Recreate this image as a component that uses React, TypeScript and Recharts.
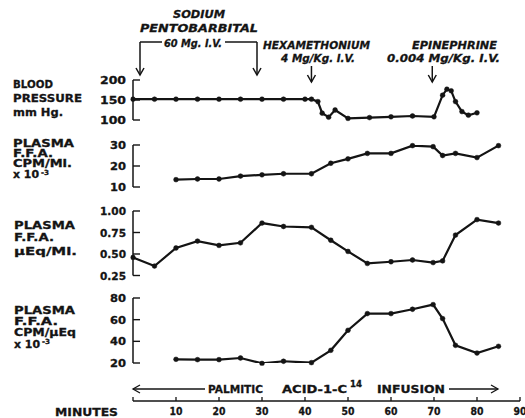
import React from 'react';
import { LineChart, Line, XAxis, YAxis, ReferenceLine } from 'recharts';

const W = 525;
const H = 418;
const X0 = 133; // pixel of minute 0
const X90 = 520; // pixel of minute 90
const INK = '#141414';
const FONT = '"DejaVu Sans", "Liberation Sans", sans-serif';

// blood pressure, mm Hg
const bpMinutes = [0, 5, 10, 15, 20, 25, 30, 35, 40, 41.5, 43, 44, 45.5, 47, 50, 55, 60, 65, 70, 72, 73, 74, 75, 76.5, 78, 80];
const bpValues = [152, 152, 152, 152, 152, 152, 152, 152, 152, 152, 146, 117, 107, 125, 104, 106, 108, 110, 108, 162, 177, 173, 146, 121, 112, 118];

// sampling times of the plasma series
const sampleMinutes = [10, 15, 20, 25, 30, 35, 41.5, 46, 50, 54.5, 60, 65, 69.8, 72, 75, 80, 85];
const cpmPerMl = [13.5, 13.8, 13.8, 15.2, 15.8, 16.3, 16.3, 21.3, 23.4, 26, 26, 29.7, 29.2, 25, 26, 24, 29.7];
const uEqMinutes = [0, 5, ...sampleMinutes];
const uEqPerMl = [0.46, 0.36, 0.57, 0.65, 0.6, 0.63, 0.86, 0.82, 0.81, 0.66, 0.53, 0.39, 0.41, 0.43, 0.4, 0.42, 0.72, 0.9, 0.86];
const cpmPerUEq = [23.4, 23.1, 23.1, 24.6, 19.6, 21.6, 20.3, 31.7, 50.2, 65.6, 65.6, 69.6, 73.9, 61, 36.3, 29.2, 35.4];

const bpTicks = [100, 150, 200];
const cpmMlTicks = [10, 20, 30];
const uEqTicks = [0.25, 0.5, 0.75, 1.0];
const cpmUEqTicks = [20, 40, 60, 80];
const minuteTicks = [0, 10, 20, 30, 40, 50, 60, 70, 80, 90];

const hexMinute = 41.5;
const epiMinute = 69.6;

const px = (m: number) => X0 + (m * (X90 - X0)) / 90;
const toRows = (ts: number[], vs: number[]) => ts.map((t, i) => ({ t, v: vs[i] }));

const YTick = (props: any) => {
  const { x, y, payload, digits } = props;
  const label = Number(payload.value).toFixed(digits);
  return (
    <g>
      <line x1={x} x2={x + 7} y1={y} y2={y} stroke={INK} strokeWidth={1.4} />
      <text x={x - 7} y={y + 4} textAnchor="end" fontFamily={FONT} fontWeight="bold" fontSize={11}
        fill={INK} stroke={INK} strokeWidth={0.3} textLength={label.length > 2 ? 26 : 16} lengthAdjust="spacingAndGlyphs">
        {label}
      </text>
    </g>
  );
};

const XTick = (props: any) => {
  const { x, y, payload } = props;
  return (
    <g>
      <line x1={x} x2={x} y1={y} y2={y - 4} stroke={INK} strokeWidth={1.3} />
      {payload.value > 0 && (
        <text x={x} y={y + 14} textAnchor="middle" fontFamily={FONT} fontWeight="bold" fontSize={10.5}
          fill={INK} stroke={INK} strokeWidth={0.3} textLength={13} lengthAdjust="spacingAndGlyphs">
          {payload.value}
        </text>
      )}
    </g>
  );
};

interface PanelProps {
  rows: { t: number; v: number }[];
  top: number;
  height: number;
  domain: [number, number];
  ticks: number[];
  digits: number;
}

const Panel = ({ rows, top, height, domain, ticks, digits }: PanelProps) => {
  const m = 8;
  return (
    <div style={{ position: 'absolute', left: 0, top: top - m }}>
      <LineChart width={W} height={height + 2 * m} data={rows}
        margin={{ top: m, bottom: m, left: X0 - 40, right: W - X90 }}>
        <XAxis dataKey="t" type="number" domain={[0, 90]} hide />
        <YAxis type="number" domain={domain} ticks={ticks} interval={0} allowDataOverflow width={40}
          tickSize={0} tickMargin={0} tickLine={false}
          axisLine={{ stroke: INK, strokeWidth: 1.5 }}
          tick={(p: any) => <YTick {...p} digits={digits} />} />
        <Line dataKey="v" type="linear" stroke={INK} strokeWidth={2.2}
          dot={{ r: 2.4, fill: INK, stroke: INK, strokeWidth: 0.5, clipDot: false }}
          isAnimationActive={false} />
      </LineChart>
    </div>
  );
};

const T = ({ x, y, len, children, italic = false, size = 11 }: any) => (
  <text x={x} y={y} fontFamily={FONT} fontWeight="bold" fontStyle={italic ? 'italic' : 'normal'}
    fontSize={size} fill={INK} stroke={INK} strokeWidth={0.3} textLength={len} lengthAdjust="spacingAndGlyphs">
    {children}
  </text>
);

const DownArrow = ({ x, y1, y2 }: { x: number; y1: number; y2: number }) => (
  <g stroke={INK} strokeWidth={1.5} fill="none">
    <line x1={x} x2={x} y1={y1} y2={y2} />
    <polyline points={`${x - 4},${y2 - 7} ${x},${y2} ${x + 4},${y2 - 7}`} />
  </g>
);

const axisRows = toRows([0, 90], [0, 1]);

export default function App() {
  const axisY = 401;
  return (
    <div style={{ position: 'absolute', left: 0, top: 0, width: W, height: H, background: '#fff', overflow: 'hidden' }}>
      <Panel rows={toRows(bpMinutes, bpValues)} top={80} height={40} domain={[100, 200]} ticks={bpTicks} digits={0} />
      <Panel rows={toRows(sampleMinutes, cpmPerMl)} top={144.5} height={42} domain={[10, 30]} ticks={cpmMlTicks} digits={0} />
      <Panel rows={toRows(uEqMinutes, uEqPerMl)} top={210.5} height={64.5} domain={[0.25, 1]} ticks={uEqTicks} digits={2} />
      <Panel rows={toRows(sampleMinutes, cpmPerUEq)} top={298} height={65} domain={[20, 80]} ticks={cpmUEqTicks} digits={0} />

      {/* minutes axis */}
      <div style={{ position: 'absolute', left: 0, top: axisY - 20 }}>
        <LineChart width={W} height={50} data={axisRows} margin={{ top: 10, bottom: 0, left: X0, right: W - X90 }}>
          <XAxis dataKey="t" type="number" domain={[0, 90]} ticks={minuteTicks} interval={0} height={30}
            tickSize={0} tickMargin={0} tickLine={false} axisLine={{ stroke: INK, strokeWidth: 1.5 }} tick={XTick} />
          <YAxis hide domain={[0, 1]} />
        </LineChart>
      </div>

      {/* drug injection markers */}
      <div style={{ position: 'absolute', left: 0, top: 0, pointerEvents: 'none' }}>
        <LineChart width={W} height={H} data={axisRows} margin={{ top: 84, bottom: H - 393, left: X0, right: W - X90 }}>
          <XAxis dataKey="t" type="number" domain={[0, 90]} hide />
          <YAxis hide domain={[0, 1]} />
          <ReferenceLine x={hexMinute} stroke={INK} strokeWidth={1.3} strokeDasharray="6 3" />
          <ReferenceLine x={epiMinute} stroke={INK} strokeWidth={1.3} strokeDasharray="6 3" />
        </LineChart>
      </div>

      <svg width={W} height={H} style={{ position: 'absolute', left: 0, top: 0, pointerEvents: 'none' }}>
        {/* annotations */}
        <T x={173} y={18} len={52} italic>SODIUM</T>
        <T x={140} y={32} len={118} italic>PENTOBARBITAL</T>
        <T x={164} y={47} len={58} italic>60 Mg. I.V.</T>
        <g stroke={INK} strokeWidth={1.5} fill="none">
          <polyline points={`${px(0) + 7},42 ${px(0) + 7 + 22},42`} />
          <polyline points={`225,42 257,42`} />
        </g>
        <DownArrow x={px(0) + 7} y1={42} y2={75} />
        <DownArrow x={257} y1={42} y2={75} />

        <T x={263} y={49} len={107} italic>HEXAMETHONIUM</T>
        <T x={281} y={62} len={74} italic>4 Mg/Kg. I.V.</T>
        <DownArrow x={px(hexMinute)} y1={66} y2={82} />

        <T x={412} y={49} len={85} italic>EPINEPHRINE</T>
        <T x={387} y={62} len={113} italic>0.004 Mg/Kg. I.V.</T>
        <DownArrow x={px(epiMinute)} y1={66} y2={82} />

        {/* panel titles */}
        <T x={13} y={88} len={40}>BLOOD</T>
        <T x={13} y={102} len={69}>PRESSURE</T>
        <T x={13} y={116} len={50}>mm Hg.</T>

        <T x={13} y={147} len={61} size={10}>PLASMA</T>
        <T x={13} y={157} len={40} size={10}>F.F.A.</T>
        <T x={13} y={167} len={59} size={10}>CPM/Ml.</T>
        <T x={13} y={178} len={26} size={10}>x 10</T>
        <T x={41} y={174.5} len={8} size={7}>-3</T>

        <T x={14} y={229} len={61}>PLASMA</T>
        <T x={14} y={241} len={40}>F.F.A.</T>
        <T x={14} y={255} len={63}>μEq/Ml.</T>

        <T x={14} y={314} len={61} size={10}>PLASMA</T>
        <T x={14} y={325} len={44} size={10}>F.F.A.</T>
        <T x={14} y={336} len={62} size={10}>CPM/μEq</T>
        <T x={14} y={348} len={26} size={10}>x 10</T>
        <T x={42} y={344} len={8} size={7}>-3</T>

        {/* infusion bar */}
        <g stroke={INK} strokeWidth={1.3} fill="none">
          <line x1={px(0)} x2={205} y1={389} y2={389} />
          <polyline points={`${px(0) + 7},385 ${px(0)},389 ${px(0) + 7},393`} />
          <line x1={449} x2={498} y1={389} y2={389} />
          <polyline points={`491,385 498,389 491,393`} />
        </g>
        <T x={208} y={393} len={55}>PALMITIC</T>
        <T x={282} y={393} len={65}>ACID-1-C</T>
        <T x={350} y={387} len={12} size={8}>14</T>
        <T x={377} y={393} len={68}>INFUSION</T>

        <T x={55} y={416} len={63}>MINUTES</T>
      </svg>
    </div>
  );
}
